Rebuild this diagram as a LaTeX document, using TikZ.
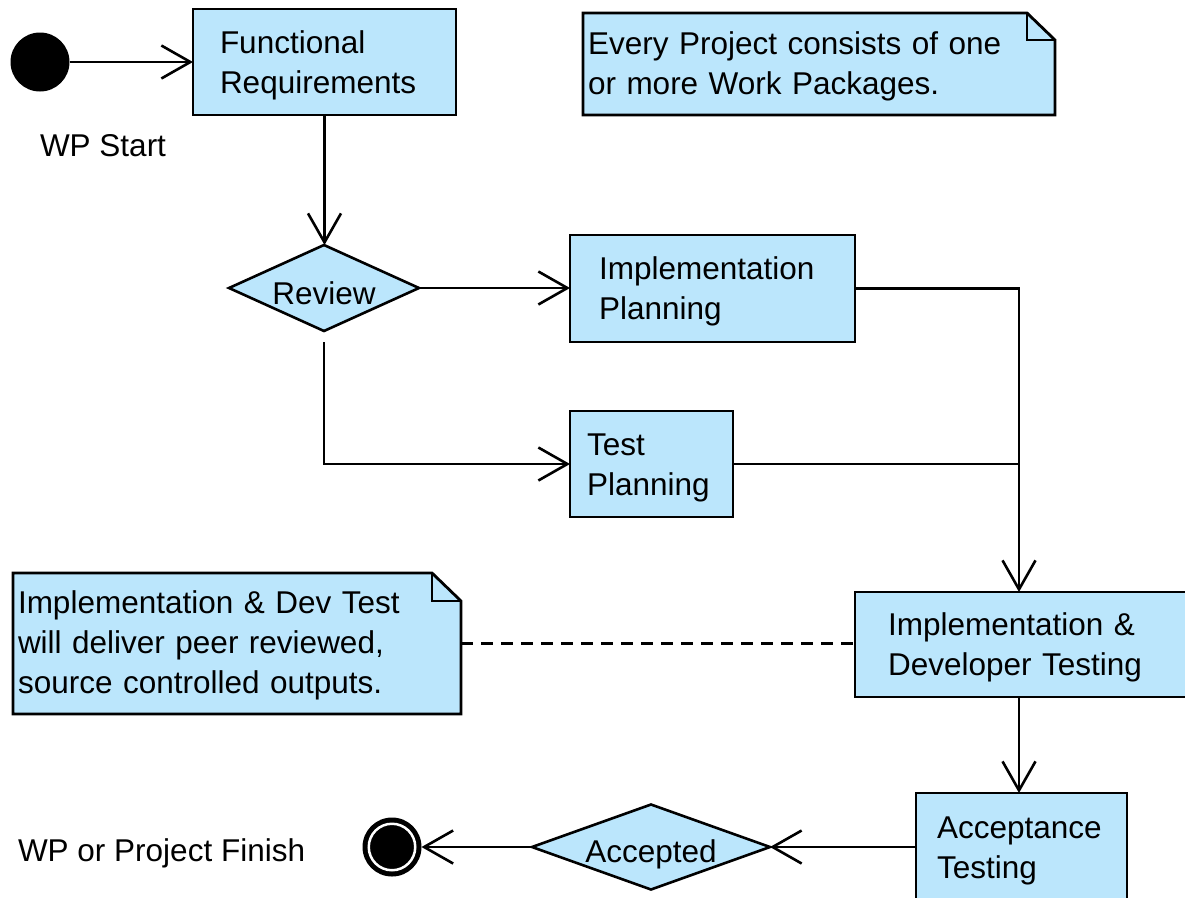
\documentclass[tikz,border=0pt]{standalone}
\usepackage{fontspec}
\setmainfont{Liberation Sans}
\usetikzlibrary{arrows.meta,shapes.geometric,backgrounds}
\definecolor{boxfill}{RGB}{187,230,252}
\begin{document}
\begin{tikzpicture}[x=1pt,y=-1pt,
  every node/.style={font=\fontsize{31.5}{40}\selectfont, outer sep=0pt},
  flow/.style={line width=2.6pt, draw=black},
  arr/.style={flow, -{Straight Barb[length=29pt,width=33pt]}},
  activity/.style={draw=black, fill=boxfill, line width=2.8pt, rectangle,
    anchor=north west, align=left, inner ysep=0pt, text height=29pt},
  decision/.style={draw=black, fill=boxfill, line width=2.6pt, diamond, inner sep=0pt,
    text height=33pt, text depth=0pt},
  notebox/.style={rectangle, anchor=north west, align=left, inner ysep=0pt, inner xsep=5pt,
    text height=27pt},
  notefold/.style={draw=black, fill=boxfill, line width=2.8pt, line join=miter},
  startnode/.style={circle, fill=black, inner sep=0pt, minimum size=59},
]
\useasboundingbox (0,0) rectangle (1185,897);
\clip (0,0) rectangle (1185,897);

% initial and final nodes
\node[startnode] (start) at (40,62) {};
\node[anchor=base west, inner sep=0pt] (startlabel) at (40,156) {WP Start};
\node[startnode] (finish) at (392,847) {};
\node[circle, fill=black, draw=white, line width=2.5pt, inner sep=0pt,
  minimum size=46.5] (finishcore) at (finish) {};
\node[anchor=base west, inner sep=0pt] (finishlabel) at (18,861) {WP or Project Finish};

% activities
\node[activity, text width=209, inner xsep=27, minimum height=106] (fr) at (193,9)
  {Functional\\Requirements};
\node[activity, text width=227, inner xsep=29, minimum height=107] (implplan) at (570,235)
  {Implementation\\Planning};
\node[activity, text width=129, inner xsep=17, minimum height=106] (testplan) at (570,411)
  {Test\\Planning};
\node[activity, text width=274, inner xsep=33, minimum height=105] (impldev) at (855,592)
  {Implementation \&\\Developer Testing};
\node[activity, text width=169, inner xsep=21, minimum height=108] (acctest) at (916,793)
  {Acceptance\\Testing};

% decisions
\node[decision, aspect=2.2, minimum width=190, minimum height=86] (review) at (324,288) {Review};
\node[decision, aspect=2.8, minimum width=238, minimum height=85, text height=31pt]
  (accepted) at (651,847) {Accepted};

% notes
\node[notebox, text width=462, minimum width=472, minimum height=102] (note1) at (583,13)
  {Every Project consists of one\\or more Work Packages.};
\node[notebox, text width=438, minimum width=448, minimum height=141] (note2) at (13,573)
  {Implementation \& Dev Test\\will deliver peer reviewed,\\source controlled outputs.};
\begin{scope}[on background layer]
  \foreach \n/\fx/\fy in {note1/28/27, note2/29/28} {
    \draw[notefold] (\n.north west) -- ([xshift=-\fx pt]\n.north east)
      -- ([yshift=-\fy pt]\n.north east) -- (\n.south east) -- (\n.south west) -- cycle;
    \draw[notefold, fill=none] ([xshift=-\fx pt]\n.north east) |- ([yshift=-\fy pt]\n.north east);
  }
\end{scope}

% control flow
\coordinate (merge) at (1019,464);
\draw[arr] (start.east) -- (start.east -| fr.west);
\draw[arr] (fr.south) -- (fr.south |- review.north);
\draw[arr] (review.east) -- (review.east -| implplan.west);
\draw[arr] ([yshift=-11pt]review.south) |- (testplan.west);
\draw[arr] (implplan.east) -| (merge |- impldev.north);
\draw[flow] (testplan.east) -- (merge);
\draw[arr] (merge |- impldev.south) -- (merge |- acctest.north);
\draw[arr] (acctest.west) -- (accepted.east);
\draw[arr] (accepted.west) -- (finish.east);
\draw[flow, dash pattern=on 12pt off 8pt] (note2.east) -- (note2.east -| impldev.west);
\end{tikzpicture}
\end{document}
